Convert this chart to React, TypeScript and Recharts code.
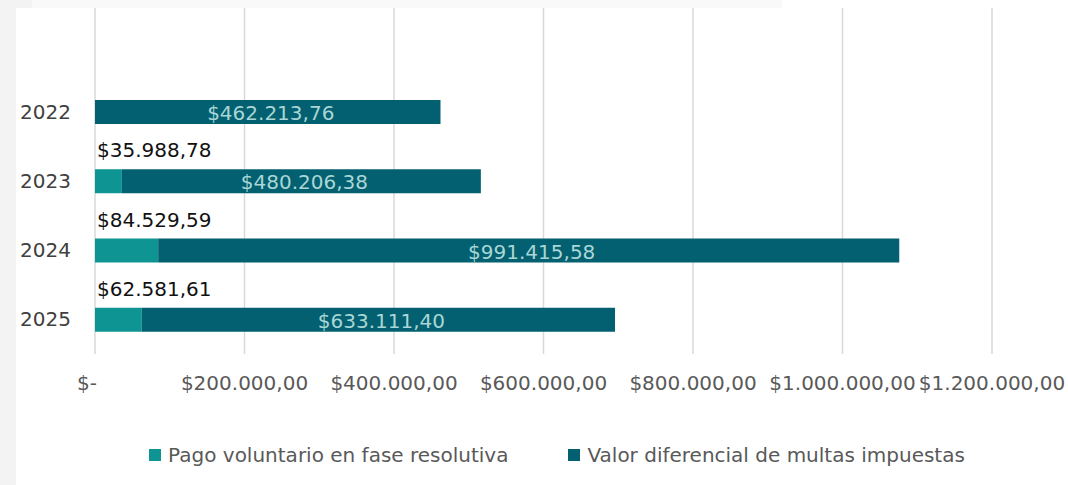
import { BarChart, Bar, XAxis, YAxis, CartesianGrid, Legend, LabelList } from "recharts";

const years = ["2022", "2023", "2024", "2025"];
const pagoVoluntario = [0, 35988.78, 84529.59, 62581.61];
const valorDiferencial = [462213.76, 480206.38, 991415.58, 633111.4];
const xTicks = [0, 200000, 400000, 600000, 800000, 1000000, 1200000];

const seriesNames = ["Pago voluntario en fase resolutiva", "Valor diferencial de multas impuestas"];
const colors = ["#0f9494", "#036070"];

const data = years.map((y, i) => ({
  year: y,
  pago: pagoVoluntario[i],
  diferencial: valorDiferencial[i],
}));

const FONT = "'DejaVu Sans', sans-serif";

// 1234567.8 -> "1.234.567,80"
const money = (v: number, decimals = 2) => {
  const [int, dec] = v.toFixed(decimals).split(".");
  const withDots = int.replace(/\B(?=(\d{3})+(?!\d))/g, ".");
  return "$" + withDots + (dec ? "," + dec : "");
};

const tickFormat = (v: number) => (v === 0 ? "$-" : money(v));

const XTick = ({ x, y, payload }: any) => (
  <text
    x={x + (payload.value === 0 ? -8 : 0)}
    y={y}
    dy="0.71em"
    textAnchor="middle"
    fill="#595959"
    fontSize={20}
    fontFamily={FONT}
  >
    {tickFormat(payload.value)}
  </text>
);

const PagoLabel = (props: any) => {
  const { x, y, value } = props;
  if (!value) return null;
  return (
    <text x={x + 2} y={y - 12} fill="#111" fontSize={20} fontFamily={FONT} textAnchor="start">
      {money(value)}
    </text>
  );
};

const DiferencialLabel = (props: any) => {
  const { x, y, width, height, value } = props;
  return (
    <text
      x={x + width / 2 + 3}
      y={y + height / 2 + 1}
      fill="#a9d6d6"
      fontSize={20}
      fontFamily={FONT}
      textAnchor="middle"
      dominantBaseline="central"
    >
      {money(value)}
    </text>
  );
};

const CustomLegend = () => (
  <div
    style={{
      display: "flex",
      justifyContent: "center",
      alignItems: "center",
      height: 30,
      paddingLeft: 46,
      fontFamily: FONT,
      fontSize: 20,
      color: "#595959",
    }}
  >
    {seriesNames.map((name, i) => (
      <div key={name} style={{ display: "flex", alignItems: "center", marginRight: i === 0 ? 60 : 0 }}>
        <span style={{ width: 12, height: 12, background: colors[i], marginRight: 7, display: "inline-block" }} />
        <span>{name}</span>
      </div>
    ))}
  </div>
);

export default function App() {
  return (
    <div style={{ position: "absolute", left: 0, top: 0, width: 1068, height: 485, background: "#ffffff" }}>
      {/* faint slide edges behind the chart */}
      <div style={{ position: "absolute", left: 0, top: 0, width: 16, height: 485, background: "#f3f3f3" }} />
      <div style={{ position: "absolute", left: 16, top: 0, width: 16, height: 8, background: "#f3f3f3" }} />
      <div style={{ position: "absolute", left: 32, top: 0, width: 750, height: 8, background: "#f9f9f9" }} />
      <div style={{ position: "absolute", left: 0, top: 0 }}>
        <BarChart
          width={1068}
          height={485}
          data={data}
          layout="vertical"
          margin={{ top: 8, right: 76, left: 0, bottom: 61 }}
          style={{ fontFamily: FONT }}
        >
          <CartesianGrid horizontal={false} stroke="#d9d9d9" strokeWidth={1.5} />
          <XAxis
            type="number"
            domain={[0, 1200000]}
            ticks={xTicks}
            axisLine={false}
            tickLine={false}
            tickSize={0}
            tickMargin={22}
            height={40}
            interval={0}
            tick={<XTick />}
          />
          <YAxis
            type="category"
            dataKey="year"
            width={95}
            axisLine={false}
            tickLine={false}
            tickSize={0}
            tickMargin={24}
            padding={{ top: 69 }}
            tick={{ fill: "#404040", fontSize: 20 }}
          />
          <Legend content={<CustomLegend />} wrapperStyle={{ top: 440, left: 0, width: 1068 }} />
          <Bar dataKey="pago" stackId="a" fill={colors[0]} name={seriesNames[0]} barSize={24} isAnimationActive={false}>
            <LabelList dataKey="pago" content={<PagoLabel />} />
          </Bar>
          <Bar dataKey="diferencial" stackId="a" fill={colors[1]} name={seriesNames[1]} barSize={24} isAnimationActive={false}>
            <LabelList dataKey="diferencial" content={<DiferencialLabel />} />
          </Bar>
        </BarChart>
      </div>
    </div>
  );
}
